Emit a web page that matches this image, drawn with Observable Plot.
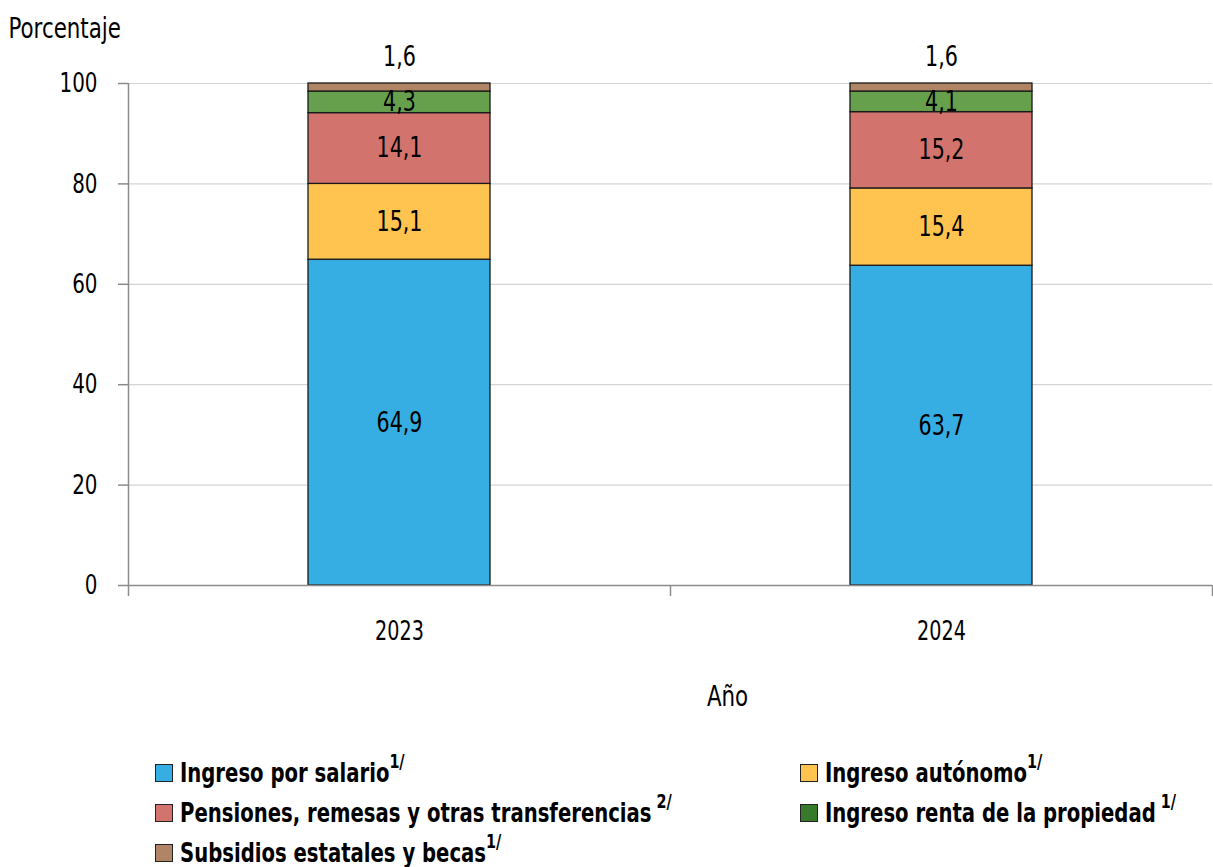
<!DOCTYPE html>
<html><head><meta charset="utf-8">
<script src="https://cdn.jsdelivr.net/npm/d3@7"></script>
<script src="https://cdn.jsdelivr.net/npm/@observablehq/plot@0.6"></script>
<style>
body{margin:0;background:#fff;font-family:"Liberation Sans Narrow","DejaVu Sans Condensed",sans-serif;}
#chart svg{display:block}
#legend{position:relative;height:127px;width:1213px}
.item{position:absolute;display:flex;align-items:center;height:40px;font-weight:bold;font-size:26px;color:#000;white-space:pre}
.sw{width:16px;height:16px;border:1.5px solid #222;margin-right:7px;flex:none}
.lbl{display:inline-flex;transform:scaleX(0.84);transform-origin:left center;height:40px;align-items:center}
.fn{font-size:19px;align-self:flex-start;margin-top:-3px}
</style></head><body>
<div id="chart"></div>
<div id="legend"></div>
<script>
const years = ["2023", "2024"];
const series = ["Ingreso por salario", "Ingreso autónomo", "Pensiones, remesas y otras transferencias", "Ingreso renta de la propiedad", "Subsidios estatales y becas"];
const values2023 = [64.9, 15.1, 14.1, 4.3, 1.6];
const values2024 = [63.7, 15.4, 15.2, 4.1, 1.6];
const footnotes = ["1/", "1/", " 2/", " 1/", "1/"];
const barColors = ["#36aee3", "#ffc34f", "#d3736e", "#67a04d", "#b08566"];
const legendColors = ["#36aee3", "#ffc34f", "#d3736e", "#38792b", "#b08566"];
const yTicks = [0, 20, 40, 60, 80, 100];

const W = 1213, H = 740, mL = 128, mR = 1, mT = 83, mB = 155;
const step = (W - mL - mR) / years.length;
const FONT = '"Liberation Sans Narrow","DejaVu Sans Condensed",sans-serif';

const data = [];
[values2023, values2024].forEach((vals, i) => {
  vals.forEach((v, j) => data.push({year: years[i], serie: series[j], value: v}));
});
const fmt = v => d3.format(".1f")(v).replace(".", ",");
const last = series[series.length - 1];

const chart = Plot.plot({
  width: W, height: H,
  marginLeft: mL, marginRight: mR, marginTop: mT, marginBottom: mB,
  style: {fontFamily: FONT, fontSize: "27px", color: "#000", background: "#fff"},
  x: {type: "band", domain: years, paddingInner: 0.664, paddingOuter: 0.332, label: null},
  y: {domain: [0, 100], label: null},
  color: {domain: series, range: barColors},
  marks: [
    Plot.gridY(yTicks.filter(d => d > 0), {stroke: "#d4d4d4", strokeOpacity: 1, strokeWidth: 1.2}),
    Plot.barY(data, {x: "year", y: "value", fill: "serie", order: series, stroke: "#1a1a1a", strokeWidth: 1.3}),
    Plot.text(data, Plot.stackY({x: "year", y: "value", z: "serie", order: series,
      text: d => d.serie === last ? "" : fmt(d.value), fill: "#000", fontSize: 28})),
    Plot.text(data, Plot.stackY2({x: "year", y: "value", z: "serie", order: series,
      text: d => d.serie === last ? fmt(d.value) : "", fill: "#000", fontSize: 28, dy: -26})),
    Plot.ruleY([0], {stroke: "#8c8c8c", strokeWidth: 1.5}),
    Plot.ruleX([years[0]], {x: d => d, y1: 0, y2: 100, dx: -step / 2, stroke: "#8c8c8c", strokeWidth: 1.5}),
    Plot.axisY({ticks: yTicks, tickSize: 10, tickPadding: 21, stroke: "#8c8c8c", strokeWidth: 1.5, fontSize: 27, label: null}),
    Plot.axisX({tickSize: 0, tickPadding: 36, fontSize: 26, label: null}),
    Plot.axisX({text: null, tickSize: 11, dx: -step / 2, stroke: "#8c8c8c", strokeWidth: 1.5, label: null}),
    Plot.axisX({ticks: [years[years.length - 1]], text: null, tickSize: 11, dx: step / 2, stroke: "#8c8c8c", strokeWidth: 1.5, label: null}),
    Plot.text(["Porcentaje"], {frameAnchor: "top-left", text: d => d, dx: -120, dy: -66, textAnchor: "start", fontSize: 29, ariaLabel: "ytitle"}),
    Plot.text(["Año"], {frameAnchor: "bottom", text: d => d, dx: 57, dy: 120, fontSize: 29, ariaLabel: "xtitle"})
  ]
});
document.getElementById("chart").appendChild(chart);

// condense SVG texts horizontally around their anchor point (only x is affected)
d3.select(chart).selectAll("text").each(function() {
  const t = d3.select(this);
  const g = this.parentNode && this.parentNode.getAttribute("aria-label");
  const s = (g === "ytitle" || g === "xtitle") ? 0.88 : 0.82;
  const xa = t.attr("x");
  const x = xa != null && !isNaN(+xa) ? +xa : 0;
  if (xa != null && !isNaN(+xa)) t.attr("x", null);
  t.attr("transform", `${t.attr("transform") || ""} translate(${x},0) scale(${s},1)`);
});

const legendPos = [[155, 13], [800, 13], [155, 53], [800, 53], [155, 93]];
const legend = document.getElementById("legend");
series.forEach((s, i) => {
  const it = document.createElement("div");
  it.className = "item";
  it.style.left = legendPos[i][0] + "px";
  it.style.top = legendPos[i][1] + "px";
  const sw = document.createElement("span");
  sw.className = "sw"; sw.style.background = legendColors[i];
  const lbl = document.createElement("span"); lbl.className = "lbl";
  const tx = document.createElement("span"); tx.textContent = s;
  const fn = document.createElement("span"); fn.className = "fn"; fn.textContent = footnotes[i];
  lbl.append(tx, fn);
  it.append(sw, lbl);
  legend.appendChild(it);
});
</script>
</body></html>
